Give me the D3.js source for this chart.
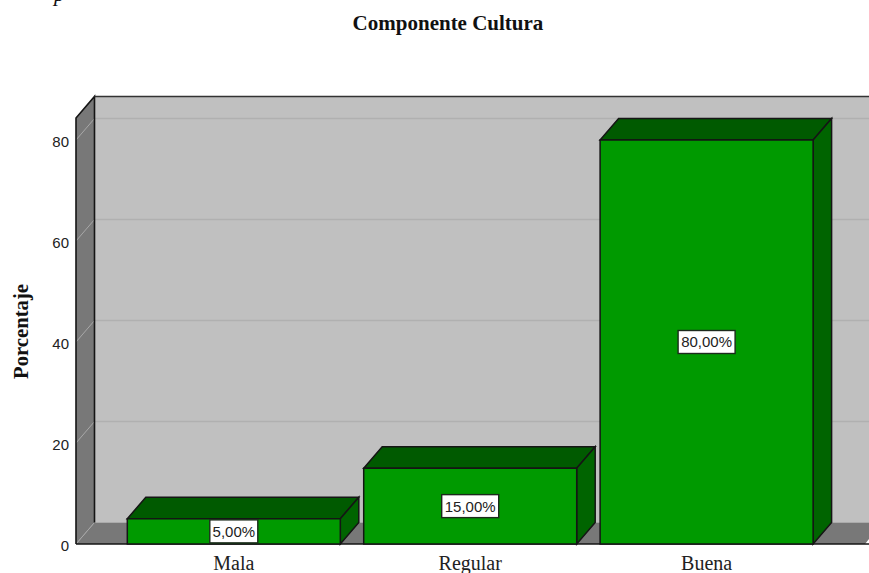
<!DOCTYPE html>
<html>
<head>
	<meta charset="utf-8" />
	<script src="https://d3js.org/d3.v7.min.js"></script>
	<title>Componente Cultura</title>
	<style>
		body { margin: 0; background: #fff; }
		svg { display: block; }
		.axis path, .axis line { display: none; }
		.yaxis text { font-family: "Liberation Sans", sans-serif; font-size: 15px; fill: #222; }
		.xaxis text { font-family: "Liberation Serif", serif; font-size: 20px; fill: #222; }
	</style>
</head>
<body>
	<div id="chart"></div>
	<script>
		var categorias = ["Mala", "Regular", "Buena"];
		var porcentajes = [5, 15, 80];
		var etiquetas = ["5,00%", "15,00%", "80,00%"];
		var ticksY = [0, 20, 40, 60, 80];

		var width = 869, height = 573;
		var baseY = 544, topFront = 118;
		var left = 76, right = 865;
		// desplazamiento de la perspectiva 3D
		var dx = 18.5, dy = -21.5;

		var y = d3.scaleLinear().domain([0, 80]).range([baseY, 140]);
		var x = d3.scaleBand().domain(categorias).range([115.6, 824.8]).paddingInner(0.099).paddingOuter(0.0495);

		var svg = d3.select("#chart").append("svg")
			.attr("width", width)
			.attr("height", height);

		function poly(puntos) {
			return puntos.map(function (p) { return p.join(","); }).join(" ");
		}

		var colorLinea = "#151515";

		// pared del fondo
		svg.append("rect")
			.attr("x", left + dx).attr("y", topFront + dy)
			.attr("width", width - left - dx).attr("height", baseY - topFront)
			.attr("fill", "#c0c0c0");

		// pared izquierda
		svg.append("polygon")
			.attr("points", poly([[left, baseY], [left, topFront], [left + dx, topFront + dy], [left + dx, baseY + dy]]))
			.attr("fill", "#787878");

		// piso
		svg.append("polygon")
			.attr("points", poly([[left, baseY], [left + dx, baseY + dy], [width, baseY + dy], [width, baseY - 5], [right, baseY]]))
			.attr("fill", "#787878");

		// lineas de la grilla
		ticksY.forEach(function (t) {
			if (t > 0) {
				svg.append("line")
					.attr("x1", left + dx).attr("x2", width)
					.attr("y1", y(t) + dy).attr("y2", y(t) + dy)
					.attr("stroke", "#b0b0b0").attr("stroke-width", 1.5);
			}
			svg.append("line")
				.attr("x1", left).attr("x2", left + dx)
				.attr("y1", y(t)).attr("y2", y(t) + dy)
				.attr("stroke", "#a8a8a8").attr("stroke-width", 1);
		});

		// bordes
		svg.append("polyline")
			.attr("points", poly([[left, baseY], [left, topFront], [left + dx, topFront + dy], [left + dx, baseY + dy]]))
			.attr("fill", "none").attr("stroke", colorLinea).attr("stroke-width", 1.6);
		svg.append("line")
			.attr("x1", left + dx).attr("x2", width)
			.attr("y1", topFront + dy).attr("y2", topFront + dy)
			.attr("stroke", "#333").attr("stroke-width", 1.6);
		svg.append("line")
			.attr("x1", left).attr("x2", width)
			.attr("y1", baseY).attr("y2", baseY)
			.attr("stroke", colorLinea).attr("stroke-width", 1.6);

		// barras
		var barras = svg.selectAll(".barra")
			.data(porcentajes)
			.enter().append("g")
			.attr("class", "barra");

		barras.append("polygon")
			.attr("points", function (d, i) {
				var x0 = x(categorias[i]), x1 = x0 + x.bandwidth();
				return poly([[x0, y(d)], [x0 + dx, y(d) + dy], [x1 + dx, y(d) + dy], [x1, y(d)]]);
			})
			.attr("fill", "#005a00").attr("stroke", colorLinea).attr("stroke-width", 1.5);

		barras.append("polygon")
			.attr("points", function (d, i) {
				var x1 = x(categorias[i]) + x.bandwidth();
				return poly([[x1, y(d)], [x1 + dx, y(d) + dy], [x1 + dx, baseY + dy], [x1, baseY]]);
			})
			.attr("fill", "#006400").attr("stroke", colorLinea).attr("stroke-width", 1.5);

		barras.append("rect")
			.attr("x", function (d, i) { return x(categorias[i]); })
			.attr("y", function (d) { return y(d); })
			.attr("width", x.bandwidth())
			.attr("height", function (d) { return baseY - y(d); })
			.attr("fill", "#009a00").attr("stroke", colorLinea).attr("stroke-width", 1.5);

		// etiquetas de valor
		var anchoEtiqueta = [48, 57, 57];
		var etiqueta = svg.selectAll(".etiqueta")
			.data(porcentajes)
			.enter().append("g")
			.attr("class", "etiqueta")
			.attr("transform", function (d, i) {
				return "translate(" + (x(categorias[i]) + x.bandwidth() / 2) + "," + y(d / 2) + ")";
			});

		etiqueta.append("rect")
			.attr("x", function (d, i) { return -anchoEtiqueta[i] / 2; })
			.attr("y", -11.5)
			.attr("width", function (d, i) { return anchoEtiqueta[i]; })
			.attr("height", 23)
			.attr("fill", "#fff").attr("stroke", "#1c2a1c").attr("stroke-width", 1.4);

		etiqueta.append("text")
			.attr("text-anchor", "middle")
			.attr("dy", "0.36em")
			.style("font-family", "'Liberation Sans', sans-serif")
			.style("font-size", "15px")
			.style("fill", "#222")
			.text(function (d, i) { return etiquetas[i]; });

		// ejes
		svg.append("g")
			.attr("class", "axis yaxis")
			.attr("transform", "translate(" + left + ",2)")
			.call(d3.axisLeft(y).tickValues(ticksY).tickSize(0).tickPadding(7));

		svg.append("g")
			.attr("class", "axis xaxis")
			.attr("transform", "translate(0," + baseY + ")")
			.call(d3.axisBottom(x).tickSize(0).tickPadding(11.5));

		// titulos
		svg.append("text")
			.attr("x", 448).attr("y", 30)
			.attr("text-anchor", "middle")
			.style("font-family", "'Liberation Serif', serif")
			.style("font-weight", "bold")
			.style("font-size", "21px")
			.style("fill", "#111")
			.text("Componente Cultura");

		svg.append("text")
			.attr("transform", "translate(28,331.5) rotate(-90)")
			.attr("text-anchor", "middle")
			.style("font-family", "'Liberation Serif', serif")
			.style("font-weight", "bold")
			.style("font-size", "20.7px")
			.style("fill", "#111")
			.text("Porcentaje");

		// resto de texto cortado arriba a la izquierda
		svg.append("text")
			.attr("x", 54).attr("y", 1)
			.style("font-family", "'Liberation Serif', serif")
			.style("font-style", "italic")
			.style("font-size", "22px")
			.style("fill", "#111")
			.text("p");
	</script>
</body>
</html>
